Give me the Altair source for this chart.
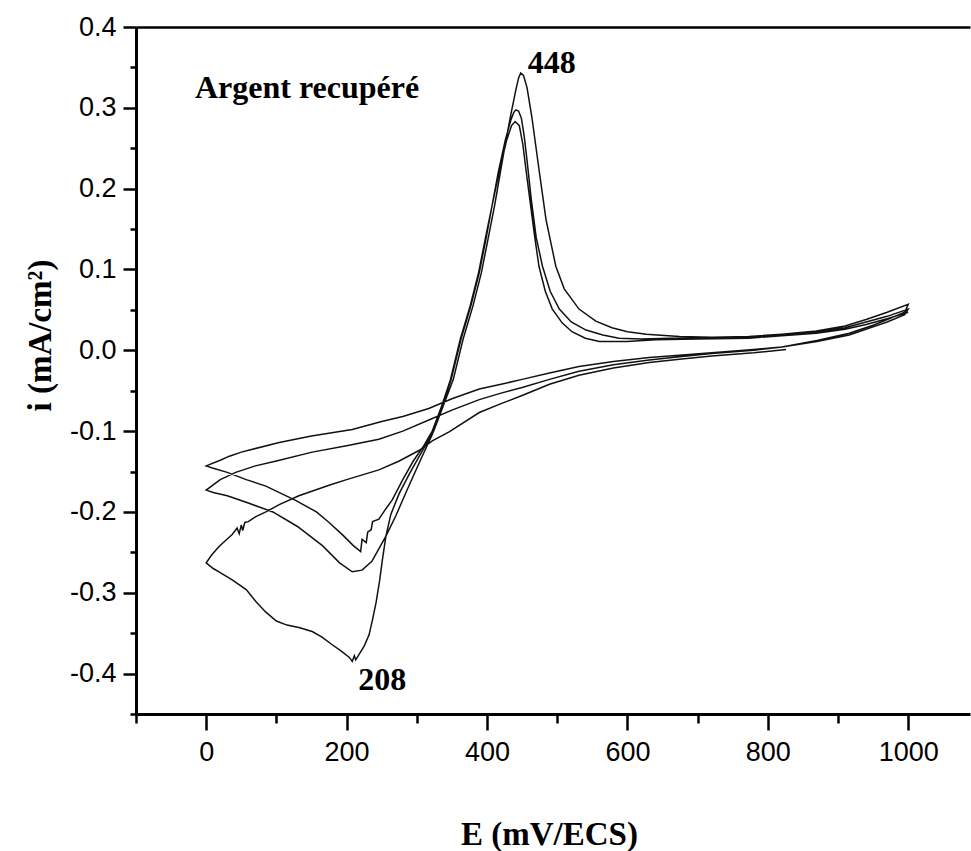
import altair as alt
import pandas as pd

# Cyclic voltammogram of recovered silver: one continuous trace,
# starting at open circuit (826 mV), three cycles between 0 and 1000 mV/ECS.

# Cycle 1, cathodic sweep from open circuit down to 0 mV
R1_E = [826, 780, 720, 674, 631, 580, 531, 489, 450, 420, 389, 346, 322, 303, 275,
        246, 200, 175, 132, 104, 85, 70, 60, 55, 52, 50, 47, 44, 37, 28, 18, 8, 0]
R1_I = [0.001, -0.003, -0.007, -0.011, -0.015, -0.022, -0.031, -0.042, -0.056, -0.066,
        -0.077, -0.101, -0.112, -0.124, -0.137, -0.148, -0.160, -0.167, -0.180, -0.191,
        -0.200, -0.206, -0.212, -0.213, -0.223, -0.216, -0.227, -0.220, -0.228, -0.235,
        -0.243, -0.253, -0.263]

# Cycle 1, anodic sweep 0 -> 1000 mV
F1_E = [10, 20, 37, 57, 71, 85, 100, 115, 132, 151, 165, 179, 192, 204, 208, 211, 213,
        218, 225, 232, 237, 242, 247, 251, 256, 263, 275, 290, 303, 324, 338, 352, 366,
        380, 392, 402, 411, 419, 427, 434, 441, 445, 448, 452, 457, 464, 474, 484, 498,
        510, 531, 555, 578, 600, 627, 674, 720, 773, 820, 869, 910, 940, 970, 1000]
F1_I = [-0.270, -0.275, -0.284, -0.296, -0.311, -0.324, -0.335, -0.340, -0.343, -0.348,
        -0.355, -0.364, -0.372, -0.380, -0.385, -0.378, -0.383, -0.376, -0.366, -0.352,
        -0.333, -0.312, -0.285, -0.259, -0.230, -0.203, -0.177, -0.152, -0.132, -0.100,
        -0.068, -0.036, 0.014, 0.055, 0.096, 0.140, 0.180, 0.220, 0.260, 0.292, 0.322,
        0.337, 0.343, 0.340, 0.325, 0.288, 0.224, 0.162, 0.104, 0.076, 0.051, 0.036,
        0.028, 0.023, 0.020, 0.017, 0.016, 0.017, 0.020, 0.024, 0.030, 0.038, 0.047, 0.057]

# Cycle 2, cathodic sweep 1000 -> 0 mV
R2_E = [995, 970, 950, 916, 870, 820, 780, 720, 674, 631, 580, 531, 489, 450, 420, 389,
        350, 318, 280, 246, 200, 151, 100, 70, 42, 20, 0]
R2_I = [0.047, 0.038, 0.031, 0.021, 0.012, 0.004, 0.000, -0.004, -0.008, -0.012, -0.018,
        -0.026, -0.036, -0.046, -0.053, -0.061, -0.074, -0.086, -0.100, -0.110, -0.118,
        -0.126, -0.137, -0.143, -0.151, -0.160, -0.173]

# Cycle 2, anodic sweep 0 -> 1000 mV
F2_E = [10, 30, 60, 95, 130, 166, 190, 208, 222, 236, 256, 270, 285, 303, 322, 336, 349,
        363, 377, 389, 399, 407, 416, 426, 434, 438, 441, 445, 449, 453, 457, 463, 470,
        479, 490, 503, 520, 541, 565, 588, 620, 660, 720, 773, 820, 869, 910, 940, 970, 1000]
F2_I = [-0.176, -0.180, -0.189, -0.200, -0.218, -0.242, -0.263, -0.274, -0.272, -0.261,
        -0.230, -0.205, -0.175, -0.140, -0.104, -0.070, -0.036, 0.014, 0.055, 0.096,
        0.140, 0.178, 0.220, 0.260, 0.285, 0.294, 0.2975, 0.296, 0.287, 0.265, 0.235,
        0.187, 0.140, 0.104, 0.073, 0.051, 0.035, 0.025, 0.019, 0.015, 0.014, 0.015,
        0.015, 0.016, 0.019, 0.023, 0.028, 0.035, 0.042, 0.051]

# Cycle 3, cathodic sweep 1000 -> 0 mV
R3_E = [995, 970, 950, 916, 870, 820, 780, 720, 674, 631, 580, 531, 489, 450, 420, 389,
        350, 317, 280, 250, 208, 150, 104, 50, 33, 20, 0]
R3_I = [0.044, 0.035, 0.029, 0.019, 0.011, 0.004, 0.001, -0.003, -0.006, -0.009, -0.014,
        -0.020, -0.028, -0.036, -0.042, -0.048, -0.060, -0.072, -0.082, -0.088, -0.098,
        -0.106, -0.114, -0.126, -0.131, -0.136, -0.143]

# Cycle 3, anodic sweep 0 -> 1000 mV
F3_E = [10, 30, 57, 85, 128, 157, 175, 195, 210, 220, 222, 228, 230, 235, 237, 246, 256,
        265, 280, 295, 310, 322, 335, 348, 362, 376, 388, 398, 407, 417, 428, 435, 440,
        446, 451, 456, 462, 468, 474, 483, 493, 507, 521, 540, 560, 600, 640, 700, 773,
        820, 869, 910, 940, 970, 1000]
F3_I = [-0.146, -0.151, -0.160, -0.168, -0.186, -0.200, -0.213, -0.229, -0.242, -0.249,
        -0.234, -0.238, -0.225, -0.222, -0.212, -0.209, -0.196, -0.185, -0.160, -0.137,
        -0.118, -0.100, -0.070, -0.036, 0.014, 0.055, 0.096, 0.140, 0.178, 0.220, 0.260,
        0.278, 0.283, 0.278, 0.255, 0.220, 0.180, 0.140, 0.104, 0.073, 0.051, 0.034,
        0.023, 0.015, 0.011, 0.011, 0.013, 0.014, 0.015, 0.018, 0.021, 0.026, 0.032,
        0.039, 0.047]

X_MAJOR = [0, 200, 400, 600, 800, 1000]
X_MINOR = [-100, 100, 300, 500, 700, 900]
Y_MAJOR = [-0.4, -0.3, -0.2, -0.1, 0.0, 0.1, 0.2, 0.3, 0.4]
Y_MINOR = [-0.45, -0.35, -0.25, -0.15, -0.05, 0.05, 0.15, 0.25, 0.35]

SAMPLE = "Argent recupéré"
X_TITLE = "E (mV/ECS)"
Y_TITLE = "i (mA/cm²)"

# one continuous trace, in acquisition order
segments = [(R1_E, R1_I), (F1_E, F1_I), (R2_E, R2_I), (F2_E, F2_I), (R3_E, R3_I), (F3_E, F3_I)]
rows = []
for es, vs in segments:
    for e, v in zip(es, vs):
        rows.append({"E": e, "i": v, "seq": len(rows)})
trace = pd.DataFrame(rows)

# peak annotations taken from the first cycle
k_ox = F1_I.index(max(F1_I))
k_red = F1_I.index(min(F1_I))
peaks = pd.DataFrame({
    "E": [F1_E[k_ox], F1_E[k_red]],
    "i": [F1_I[k_ox], F1_I[k_red]],
    "label": [str(F1_E[k_ox]), str(F1_E[k_red])],
})

W, H = 834, 687
SERIF = "Liberation Serif"
SANS = "Liberation Sans"

xs = alt.Scale(domain=[-100, 1088], nice=False, zero=False)
ys = alt.Scale(domain=[-0.45, 0.4], nice=False, zero=False)

axis_common = dict(grid=False, domainColor="black", tickColor="black", labelColor="black",
                   labelFont=SANS, labelFontSize=27, labelFlush=False, labelOverlap=False,
                   titleFont=SERIF, titleFontSize=33, titleFontWeight="bold",
                   titleColor="black", titleBaseline="alphabetic", titleAlign="center")

x_axis = alt.Axis(values=X_MAJOR, orient="bottom", title=X_TITLE, titleX=413, titleY=130,
                  tickSize=16, tickWidth=2.5, domainWidth=3, labelPadding=9,
                  labelExpr="format(datum.value, 'd')", **axis_common)
y_axis = alt.Axis(values=Y_MAJOR, orient="left", title=Y_TITLE, titleX=-86, titleY=308,
                  titleAngle=270, tickSize=13, tickWidth=2.5, domainWidth=3, labelPadding=7,
                  labelExpr="replace(format(datum.value, '.1f'), '\u2212', '-')",
                  **axis_common)

x_minor = alt.Axis(values=X_MINOR, orient="bottom", title=None, labels=False, domain=False,
                   grid=False, tickSize=9, tickWidth=2.5, tickColor="black")
y_minor = alt.Axis(values=Y_MINOR, orient="left", title=None, labels=False, domain=False,
                   grid=False, tickSize=6, tickWidth=2.5, tickColor="black")
x_top = alt.Axis(orient="top", title=None, labels=False, ticks=False, grid=False,
                 domain=True, domainColor="black", domainWidth=2.5)

curve = alt.Chart(trace).mark_line(color="#111111", strokeWidth=1.5).encode(
    x=alt.X("E:Q", scale=xs, axis=x_axis),
    y=alt.Y("i:Q", scale=ys, axis=y_axis),
    order="seq:Q",
)

minor = alt.Chart(trace).mark_line(strokeOpacity=0).encode(
    x=alt.X("E:Q", scale=xs, axis=x_minor),
    y=alt.Y("i:Q", scale=ys, axis=y_minor),
    order="seq:Q",
)

frame = alt.Chart(trace).mark_line(strokeOpacity=0).encode(
    x=alt.X("E:Q", scale=xs, axis=x_top),
    y=alt.Y("i:Q", scale=ys, axis=None),
    order="seq:Q",
)

ox_label = alt.Chart(peaks.iloc[[0]]).mark_text(
    font=SERIF, fontSize=32, fontWeight="bold", color="black",
    align="left", baseline="alphabetic", dx=7, dy=0,
).encode(
    x=alt.X("E:Q", scale=xs, axis=None),
    y=alt.Y("i:Q", scale=ys, axis=None),
    text="label:N",
)

red_label = alt.Chart(peaks.iloc[[1]]).mark_text(
    font=SERIF, fontSize=32, fontWeight="bold", color="black",
    align="left", baseline="alphabetic", dx=6, dy=29,
).encode(
    x=alt.X("E:Q", scale=xs, axis=None),
    y=alt.Y("i:Q", scale=ys, axis=None),
    text="label:N",
)

sample = alt.Chart(pd.DataFrame({"t": [SAMPLE]})).mark_text(
    font=SERIF, fontSize=32, fontWeight="bold", color="black",
    align="left", baseline="alphabetic",
).encode(x=alt.value(59), y=alt.value(71), text="t:N")

chart = alt.layer(curve, minor, frame, ox_label, red_label, sample).resolve_axis(
    x="independent", y="independent"
).properties(
    width=W, height=H,
    autosize=alt.AutoSizeParams(type="none"),
    padding={"left": 136, "top": 27, "right": 1, "bottom": 137},
    background="white",
).configure_view(strokeWidth=0)

chart.save("out.html", embed_options={"renderer": "svg", "actions": False})
